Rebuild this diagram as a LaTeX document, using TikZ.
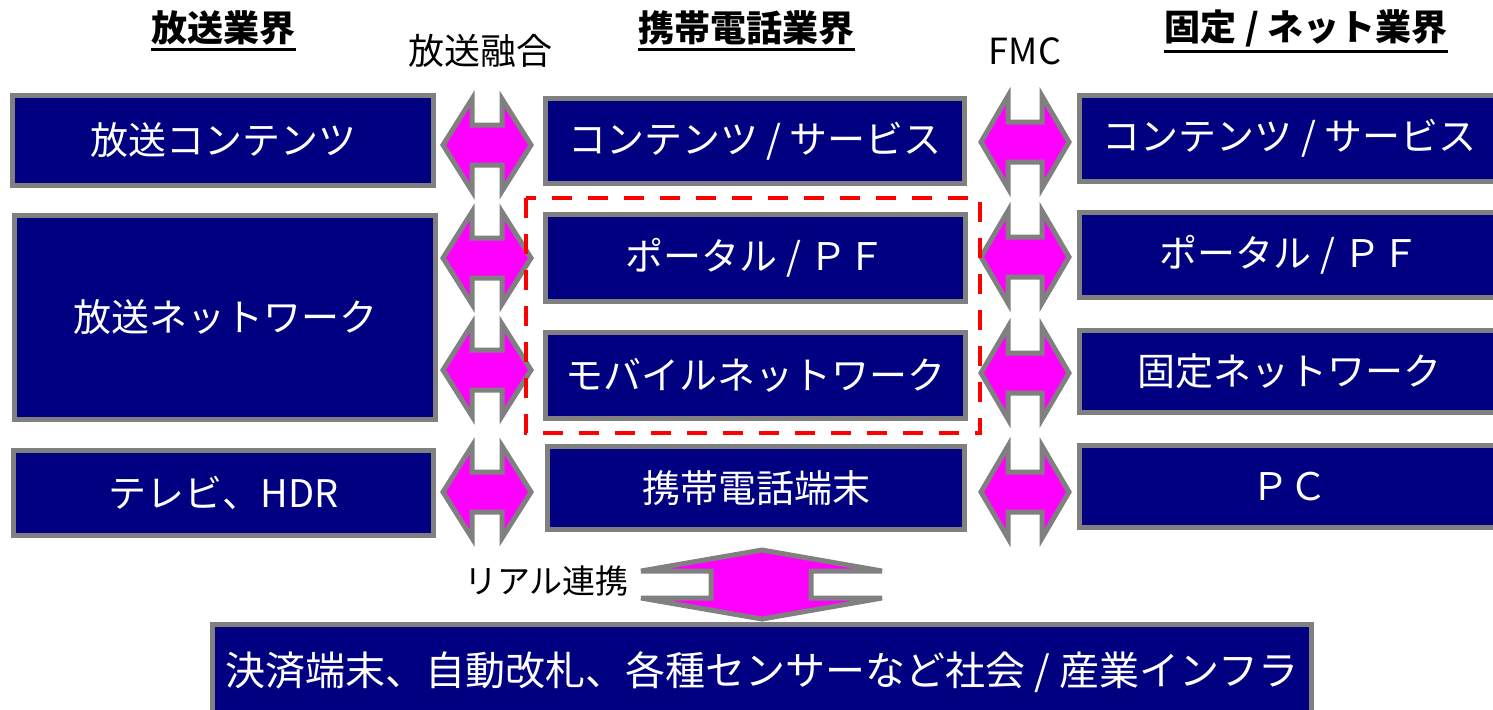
\documentclass[tikz,border=0pt]{standalone}
\usepackage{fontspec}
\setmainfont{Noto Sans CJK JP}
\definecolor{navy}{HTML}{000080}
\definecolor{boxgray}{HTML}{808080}
\definecolor{arrmag}{HTML}{FF00FF}
\definecolor{grpred}{HTML}{FF0000}
\newcommand{\boxfont}{\fontsize{19pt}{22pt}\selectfont}
\newcommand{\hdrfont}{\fontsize{18pt}{21pt}\selectfont\bfseries}
\newcommand{\lblfont}{\fontsize{18pt}{21pt}\selectfont}
\newcommand{\zzvarrow}[4]{%
  \draw[arr] (#1-#4,#2-46) -- (#1-#4,#2-20) -- (#1+#4,#2-20) -- (#1+#4,#2-46) -- (#1+#3,#2)
    -- (#1+#4,#2+46) -- (#1+#4,#2+20) -- (#1-#4,#2+20) -- (#1-#4,#2+46) -- (#1-#3,#2) -- cycle;}
\begin{document}
\begin{tikzpicture}[x=0.5pt,y=-0.5pt,
  box/.style={draw=boxgray, fill=navy, line width=2.5pt, text=white, inner sep=0pt, font=\boxfont},
  hdr/.style={font=\hdrfont, inner sep=0pt},
  lbl/.style={font=\lblfont, inner sep=0pt},
  arr/.style={draw=boxgray, fill=arrmag, line width=2.5pt, line join=miter},
  grp/.style={draw=grpred, line width=2pt, dash pattern=on 10pt off 8pt},
  uline/.style={line width=1.5pt}]
\useasboundingbox (0,0) rectangle (1493,709);
\clip (0,0) rectangle (1493,709);

% headers
\node[hdr] (h1) at (223.5,28) {放送業界};
\node[hdr] (h2) at (746.5,28) {携帯電話業界};
\node[hdr] (h3) at (1306,28) {固定 / ネット業界};
\foreach \h in {h1,h2,h3}
  \draw[uline] ([yshift=-2pt]\h.south west) -- ([yshift=-2pt]\h.south east);
\node[lbl] (t1) at (480,51) {放送融合};
\node[lbl] (t2) at (1025,51) {FMC};

% left column
\node[box, minimum width=210.5pt, minimum height=45pt] (L1) at (223,140.5) {放送コンテンツ};
\node[box, minimum width=210.5pt, minimum height=102pt] (L2) at (225,317.5) {放送ネットワーク};
\node[box, minimum width=210pt, minimum height=42.5pt] (L3) at (223.5,493) {テレビ、HDR};

% middle column
\node[box, minimum width=209.5pt, minimum height=42.5pt] (M1) at (755,141) {コンテンツ / サービス};
\node[box, minimum width=210pt, minimum height=43.5pt] (M2) at (755.5,258) {ポータル / ＰＦ};
\node[box, minimum width=210pt, minimum height=43pt] (M3) at (755.5,375.5) {モバイルネットワーク};
\node[box, minimum width=208.5pt, minimum height=41.5pt] (M4) at (756,488) {携帯電話端末};

% right column
\node[box, minimum width=210pt, minimum height=43pt] (R1) at (1289.5,138.5) {コンテンツ / サービス};
\node[box, minimum width=210pt, minimum height=42.5pt] (R2) at (1289.5,255) {ポータル / ＰＦ};
\node[box, minimum width=210pt, minimum height=41pt] (R3) at (1289.5,371.5) {固定ネットワーク};
\node[box, minimum width=210pt, minimum height=41pt] (R4) at (1289.5,486.5) {ＰＣ};

% bottom
\node[box, minimum width=549.5pt, minimum height=47.5pt, font=\fontsize{20pt}{23pt}\selectfont] (B) at (762,672) {決済端末、自動改札、各種センサーなど社会 / 産業インフラ};

% arrows
\zzvarrow{487}{145}{44}{15}
\zzvarrow{487}{258}{44}{15}
\zzvarrow{487}{370}{44}{15}
\zzvarrow{487}{492}{44}{15}
\zzvarrow{1025}{142}{44}{17}
\zzvarrow{1025}{257}{44}{17}
\zzvarrow{1025}{373}{44}{17}
\zzvarrow{1025}{492}{44}{17}

\draw[arr] (641,571) -- (762,550) -- (882,571) -- (811,571) -- (811,598) -- (882,598)
  -- (762,619) -- (641,598) -- (711,598) -- (711,571) -- cycle;
\node[lbl, font=\fontsize{16.5pt}{20pt}\selectfont] (t3) at (546.5,581) {リアル連携};

% group frame
\draw[grp] (526,198) rectangle (980,433);
\end{tikzpicture}
\end{document}
